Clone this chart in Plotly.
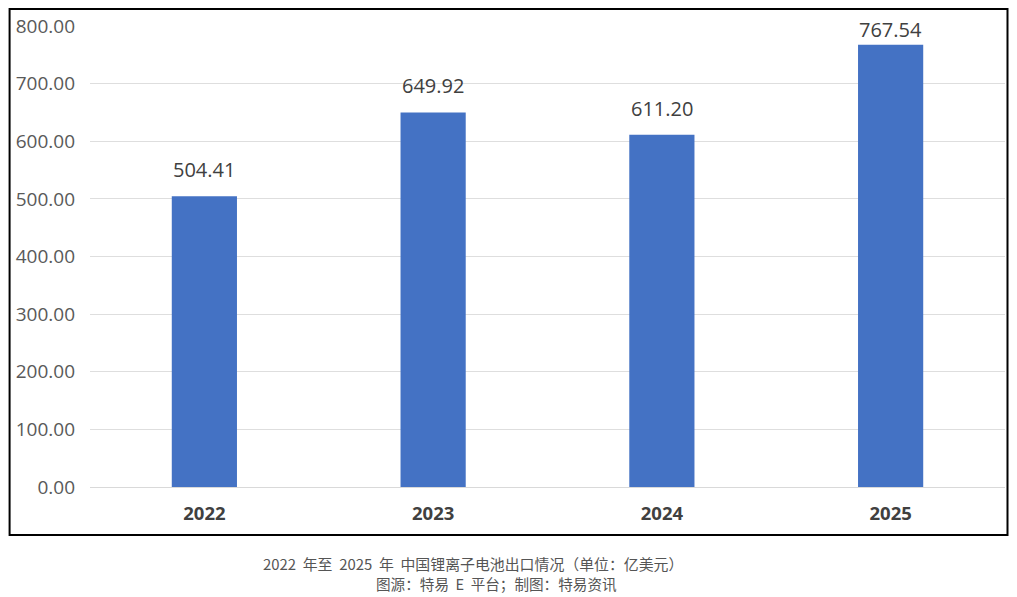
import plotly.graph_objects as go

# --- data ---
years = ["2022", "2023", "2024", "2025"]
export_values = [504.41, 649.92, 611.20, 767.54]
y_tick_vals = [0, 100, 200, 300, 400, 500, 600, 700, 800]
caption_line1 = "2022  年至  2025  年  中国锂离子电池出口情况（单位：亿美元）"
caption_line2 = "图源：特易  E  平台；制图：特易资讯"

# page has an 8px body margin, so the figure is laid out 8px in from the corner
W, H = 1001, 589
PL, PR, PT, PB = 81.5, 3.5, 18, 110
pw, ph = W - PL - PR, H - PT - PB

fig = go.Figure()

fig.add_trace(go.Bar(
    x=years,
    y=export_values,
    marker=dict(color="#4472C4", line=dict(width=0)),
    hoverinfo="x+y",
))

# value labels above the bars (category index, so "2022" isn't read as a number)
# the tallest one sits a bit closer to its bar so it stays inside the frame
for i, v in enumerate(export_values):
    fig.add_annotation(
        x=i, y=v, text=f"{v:.2f}", showarrow=False,
        yanchor="bottom", yshift=0 if v > 750 else 11,
        font=dict(size=20, color="#404040", family="Open Sans"),
    )

fig.update_layout(
    width=W,
    height=H,
    margin=dict(l=PL, r=PR, t=PT, b=PB, autoexpand=False),
    paper_bgcolor="white",
    plot_bgcolor="white",
    bargap=0.715,
    showlegend=False,
    font=dict(family="Open Sans", color="#595959"),
    xaxis=dict(
        type="category",
        range=[-0.5, len(years) - 0.5],
        tickvals=years,
        ticktext=[f"<b>{y}</b>" for y in years],
        showgrid=False,
        showline=True,
        linecolor="#d9d9d9",
        linewidth=1,
        tickfont=dict(size=18.5, color="#404040", family="Open Sans"),
        ticklabelstandoff=10,
    ),
    yaxis=dict(
        range=[0, 800],
        tickvals=y_tick_vals,
        tickformat=".2f",
        showgrid=True,
        gridcolor="#dedede",
        gridwidth=1,
        zeroline=False,
        showline=False,
        tickfont=dict(size=19, color="#595959", family="Open Sans"),
        ticklabelstandoff=14,
    ),
)

# outer frame around the chart area
fig.add_shape(
    type="rect", xref="paper", yref="paper",
    x0=(1 - PL) / pw, x1=(W - 1 - PL) / pw,
    y0=(ph + PT - 527) / ph, y1=(ph + PT - 1) / ph,
    line=dict(color="black", width=2),
)

# keep the double spaces of the caption (svg would collapse them)
fig.add_annotation(
    text=caption_line1.replace("  ", " \u00a0"), xref="paper", yref="paper",
    x=(465 - PL) / pw, y=(ph + PT - 555) / ph,
    showarrow=False, xanchor="center", yanchor="middle",
    font=dict(size=14.9, color="#555555", family="Noto Sans CJK SC"),
)
fig.add_annotation(
    text=caption_line2.replace("  ", " \u00a0"), xref="paper", yref="paper",
    x=(488 - PL) / pw, y=(ph + PT - 575) / ph,
    showarrow=False, xanchor="center", yanchor="middle",
    font=dict(size=14.6, color="#555555", family="Noto Sans CJK SC"),
)

fig.write_html("out.html")
